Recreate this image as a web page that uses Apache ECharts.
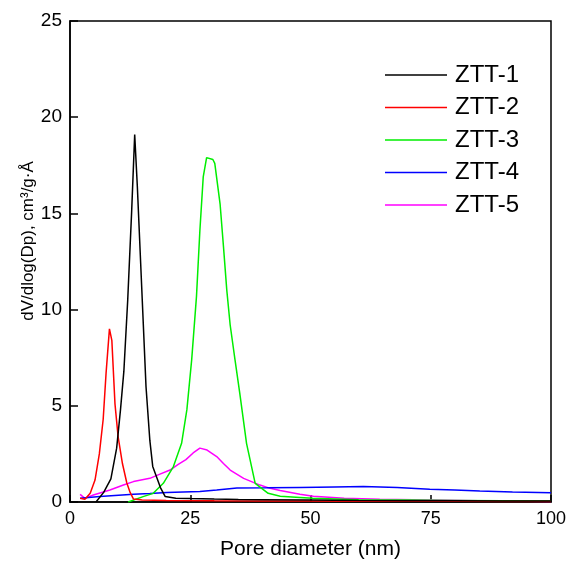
<!DOCTYPE html>
<html>
<head>
<meta charset="utf-8">
<script src="https://cdn.jsdelivr.net/npm/echarts@6/dist/echarts.min.js"></script>
<style>
html,body{margin:0;padding:0;background:#fff;}
#chart{width:571px;height:565px;}
</style>
</head>
<body>
<div id="chart"></div>
<script>
var seriesNames = ['ZTT-1', 'ZTT-2', 'ZTT-3', 'ZTT-4', 'ZTT-5'];
var xTicks = [0, 25, 50, 75, 100];
var yTicks = [0, 5, 10, 15, 20, 25];

var ztt1X = [5.4, 7.0, 8.5, 9.7, 10.5, 11.2, 12.0, 12.8, 13.45, 14.0, 14.9, 15.8, 16.6, 17.2, 18.0, 18.8, 19.8, 22, 25, 30, 35, 40, 50, 60, 70, 80, 90, 100];
var ztt1Y = [0, 0.5, 1.2, 2.8, 4.8, 6.8, 10.5, 15.0, 19.1, 16.4, 11.2, 6.0, 3.2, 1.85, 1.3, 0.75, 0.28, 0.2, 0.18, 0.15, 0.13, 0.12, 0.1, 0.08, 0.07, 0.06, 0.05, 0.05];

var ztt2X = [2.1, 3.1, 4.2, 5.2, 6.1, 6.9, 7.5, 8.2, 8.7, 9.35, 10.0, 10.9, 11.8, 12.5, 13.2, 15, 20, 30, 40, 50, 60, 70, 80, 90, 100];
var ztt2Y = [0.19, 0.14, 0.45, 1.14, 2.5, 4.3, 6.7, 9.0, 8.4, 5.1, 3.4, 2.0, 1.0, 0.5, 0.15, 0.1, 0.08, 0.06, 0.05, 0.05, 0.04, 0.04, 0.04, 0.03, 0.03];

var ztt3X = [12.1, 15.2, 17.3, 19.4, 21.5, 23.2, 24.3, 25.3, 26.3, 27.0, 27.7, 28.4, 29.7, 30.1, 31.2, 31.9, 32.6, 33.3, 34.3, 35.3, 36.7, 38.5, 41.2, 43.7, 47.8, 50.5, 60, 70, 80, 90, 100];
var ztt3Y = [0, 0.28, 0.45, 0.97, 1.84, 3.05, 4.8, 7.4, 10.7, 14.1, 16.9, 17.9, 17.8, 17.6, 15.5, 13.3, 11.0, 9.2, 7.4, 5.65, 3.05, 0.97, 0.45, 0.3, 0.24, 0.19, 0.12, 0.1, 0.08, 0.06, 0.05];

var ztt4X = [2.1, 6.2, 13.2, 16.6, 20.1, 27, 30.5, 34.7, 40.9, 47.8, 55, 61, 68, 74.8, 80, 85.2, 92, 100];
var ztt4Y = [0.19, 0.28, 0.4, 0.44, 0.5, 0.55, 0.62, 0.73, 0.74, 0.76, 0.78, 0.8, 0.76, 0.66, 0.62, 0.57, 0.52, 0.48];

var ztt5X = [2.1, 3.1, 4.85, 8.3, 11.1, 13.2, 16.6, 18.7, 20.8, 22.5, 24.1, 25.6, 27.0, 28.5, 30.5, 31.9, 33.3, 36.1, 39.5, 41.6, 43.7, 47.8, 50.6, 57, 64.4, 74.8, 85, 100];
var ztt5Y = [0.4, 0.19, 0.36, 0.62, 0.88, 1.06, 1.23, 1.45, 1.66, 1.95, 2.2, 2.55, 2.8, 2.7, 2.36, 2.0, 1.66, 1.23, 0.88, 0.71, 0.6, 0.4, 0.3, 0.2, 0.14, 0.1, 0.06, 0.02];

var colors = ['#000000', '#ff0000', '#00ee00', '#0000ff', '#ff00ff'];
var xs = [ztt1X, ztt2X, ztt3X, ztt4X, ztt5X];
var ys = [ztt1Y, ztt2Y, ztt3Y, ztt4Y, ztt5Y];

function pairs(x, y) {
  var out = [];
  for (var i = 0; i < x.length; i++) out.push([x[i], y[i]]);
  return out;
}

var FONT = 'Liberation Sans, Arial, sans-serif';
var series = seriesNames.map(function (name, i) {
  return {
    name: name,
    type: 'line',
    data: pairs(xs[i], ys[i]),
    symbol: 'none',
    smooth: false,
    lineStyle: { color: colors[i], width: 1.5 },
    itemStyle: { color: colors[i] },
    z: 10 - i
  };
});

var chart = echarts.init(document.getElementById('chart'), null, { renderer: 'canvas' });
chart.setOption({
  animation: false,
  backgroundColor: '#fff',
  grid: {
    left: 70, top: 21, width: 481, height: 481,
    show: true, borderColor: '#000', borderWidth: 1.5, backgroundColor: 'transparent'
  },
  xAxis: {
    type: 'value',
    min: xTicks[0], max: xTicks[xTicks.length - 1], interval: 25,
    name: 'Pore diameter (nm)',
    nameLocation: 'middle',
    nameGap: 37,
    nameTextStyle: { fontFamily: FONT, fontSize: 21, color: '#000' },
    axisLine: { show: true, lineStyle: { color: '#000', width: 1.5 } },
    axisTick: { show: true, inside: true, length: 7, lineStyle: { color: '#000', width: 1.5 } },
    axisLabel: { fontFamily: FONT, fontSize: 18, color: '#000', margin: 8 },
    splitLine: { show: false }
  },
  yAxis: {
    type: 'value',
    min: yTicks[0], max: yTicks[yTicks.length - 1], interval: 5,
    axisLine: { show: true, lineStyle: { color: '#000', width: 1.5 } },
    axisTick: { show: true, inside: true, length: 8, lineStyle: { color: '#000', width: 1.5 } },
    axisLabel: { fontFamily: FONT, fontSize: 19, color: '#000', margin: 8 },
    splitLine: { show: false }
  },
  legend: {
    data: seriesNames,
    orient: 'vertical',
    left: 385,
    top: 63,
    padding: 0,
    itemWidth: 62,
    itemHeight: 14,
    itemGap: 8.5,
    icon: 'path://M0,6.5 L62,6.5 L62,8 L0,8 Z',
    textStyle: { fontFamily: FONT, fontSize: 24, color: '#000', lineHeight: 24, padding: [0, 0, 0, 3] }
  },
  graphic: [{
    type: 'text',
    x: 28, y: 241,
    rotation: Math.PI / 2,
    style: {
      text: 'dV/dlog(Dp), cm³/g·Å',
      font: '17px ' + FONT,
      fill: '#000',
      textAlign: 'center',
      textVerticalAlign: 'middle'
    }
  }],
  series: series
});
</script>
</body>
</html>
